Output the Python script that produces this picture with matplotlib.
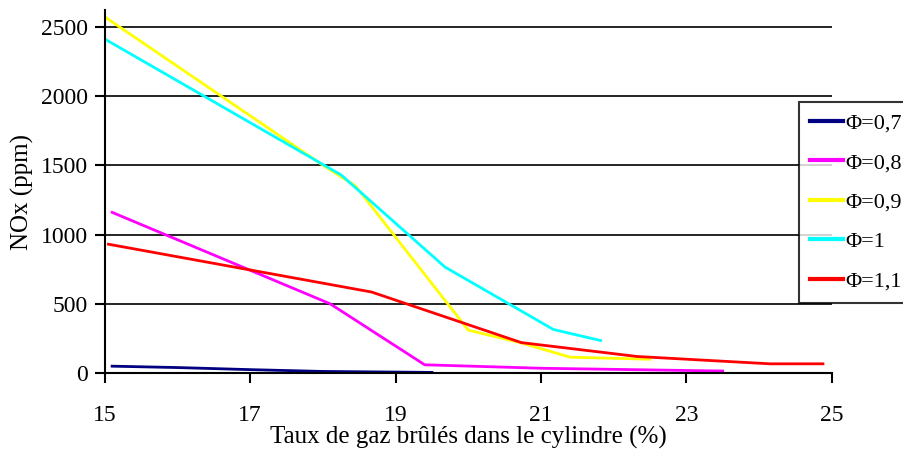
import matplotlib.pyplot as plt

# values
x_07 = [15.1, 16.0, 17.0, 18.0, 19.5]
y_07 = [50, 40, 25, 12, 5]

x_08 = [15.1, 18.1, 19.4, 21.0, 23.5]
y_08 = [1160, 500, 60, 35, 15]

x_09 = [15.0, 18.0, 18.45, 20.0, 20.75, 21.4, 22.5]
y_09 = [2570, 1500, 1350, 310, 215, 115, 100]

x_10 = [15.0, 18.25, 19.68, 21.17, 21.82]
y_10 = [2410, 1430, 765, 315, 235]

x_11 = [15.05, 18.67, 20.73, 22.32, 24.15, 24.88]
y_11 = [930, 585, 220, 120, 67, 67]

labels = ['Φ=0,7', 'Φ=0,8', 'Φ=0,9', 'Φ=1', 'Φ=1,1']
colors = ['#000080', '#FF00FF', '#FFFF00', '#00FFFF', '#FF0000']

plt.rcParams['font.family'] = ['Liberation Serif', 'DejaVu Serif']

fig = plt.figure(figsize=(9.04, 4.55), dpi=100)
ax = fig.add_axes([0.116, 0.180, 0.804, 0.798])

series = [(x_07, y_07), (x_08, y_08), (x_09, y_09), (x_10, y_10), (x_11, y_11)]
for (xs, ys), lab, col in zip(series, labels, colors):
    ax.plot(xs, ys, color=col, lw=2, label=lab)

ax.set_xlim(15, 25)
ax.set_ylim(0, 2620)
ax.set_xticks([15, 17, 19, 21, 23, 25])
ax.set_yticks([0, 500, 1000, 1500, 2000, 2500])
for v in [500, 1000, 1500, 2000, 2500]:
    ax.axhline(v, color='black', lw=1.2, zorder=0)

ax.spines['top'].set_visible(False)
ax.spines['right'].set_visible(False)
ax.spines['left'].set_linewidth(1.5)
ax.spines['bottom'].set_linewidth(1.5)
ax.tick_params(axis='x', direction='out', length=7, width=1.5, pad=16, labelsize=17)
ax.tick_params(axis='y', direction='out', length=7, width=1.5, pad=5, labelsize=17)

ax.set_xlabel('Taux de gaz brûlés dans le cylindre (%)', fontsize=18, labelpad=0)
ax.set_ylabel('NOx (ppm)', fontsize=18, labelpad=5)

leg = fig.legend(loc='upper left', bbox_to_anchor=(799 / 904, 1 - 102 / 455),
                 fontsize=16, frameon=True, fancybox=False, handlelength=1.5,
                 handletextpad=0.1, labelspacing=0.85, borderpad=0.5,
                 borderaxespad=0)
leg.get_frame().set_edgecolor('black')
leg.get_frame().set_linewidth(1.5)
for line in leg.get_lines():
    line.set_linewidth(3)

fig.savefig('out.png', dpi=100)
